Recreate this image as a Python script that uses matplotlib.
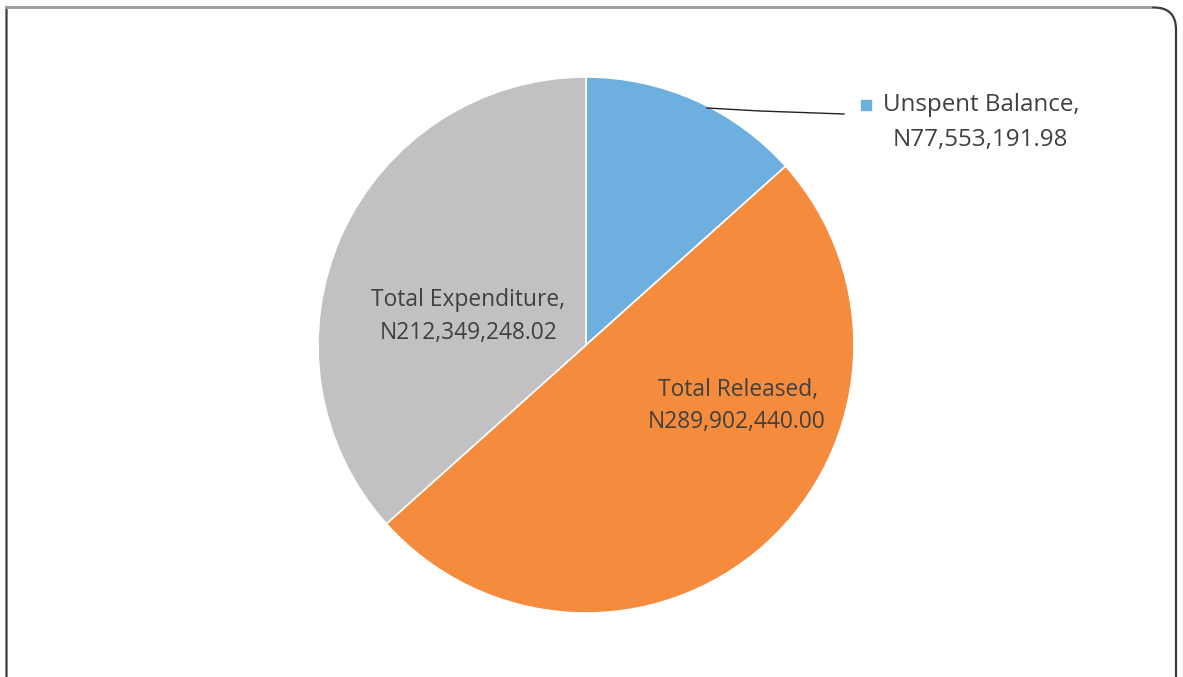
import matplotlib.pyplot as plt
from matplotlib.path import Path
from matplotlib.patches import PathPatch

# slice data
names = ['Unspent Balance', 'Total Released', 'Total Expenditure']
amounts = [77553191.98, 289902440.00, 212349248.02]
amount_text = ['N77,553,191.98', 'N289,902,440.00', 'N212,349,248.02']
colors = ['#6DB0DF', '#F58B3D', '#C3C0C4']

W, H = 1183, 677
fig = plt.figure(figsize=(W / 100, H / 100), dpi=100)
ax = fig.add_axes([0, 0, 1, 1])

cx, cy, r = 586, H - 345, 268
wedges, _ = ax.pie(amounts, colors=colors, startangle=90, counterclock=False,
                   center=(cx, cy), radius=r, frame=True,
                   wedgeprops=dict(edgecolor='white', linewidth=1.2))
ax.set_xlim(0, W)
ax.set_ylim(0, H)
ax.set_aspect('equal')
ax.axis('off')

# outer chart frame: square top-left corner, rounded top-right
top = H - 7.5
verts = [(6.5, -5), (6.5, top), (1154, top), (1176, top), (1176, top - 22), (1176, -5)]
codes = [Path.MOVETO, Path.LINETO, Path.LINETO, Path.CURVE3, Path.CURVE3, Path.LINETO]
ax.add_patch(PathPatch(Path(verts, codes), fc='none', ec='#3a3a3a', lw=1.6, zorder=0))
ax.plot([6.5, 1150], [top + 0.5, top + 0.5], color='#a0a0a0', lw=2.2, zorder=1)

fnt = dict(family=['Open Sans', 'DejaVu Sans'], fontsize=16.4, color='#404040')
fnt_out = dict(fnt, fontsize=17.4)

# unspent balance label outside with leader line
ax.plot([707, 760, 844], [H - 108, H - 111, H - 114], color='#222222', lw=1.0)
ax.add_patch(plt.Rectangle((861, H - 110), 10, 10, color=colors[0]))
ax.text(883, H - 105, names[0] + ',', ha='left', va='center', **fnt_out)
ax.text(980, H - 140, amount_text[0], ha='center', va='center', **fnt_out)

# inside labels
ax.text(738, H - 390, names[1] + ',', ha='center', va='center', **fnt)
ax.text(737, H - 422, amount_text[1], ha='center', va='center', **fnt)
ax.text(468, H - 300, names[2] + ',', ha='center', va='center', **fnt)
ax.text(469, H - 333, amount_text[2], ha='center', va='center', **fnt)

fig.savefig('out.png', dpi=100)
